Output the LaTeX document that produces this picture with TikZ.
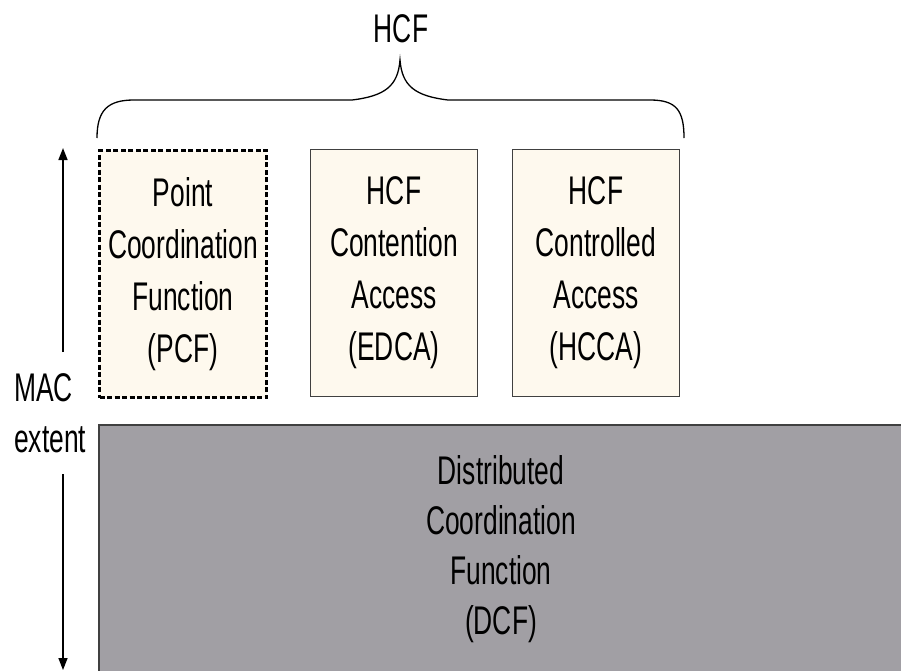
\documentclass[tikz,border=0pt]{standalone}
\usepackage{fontspec}
\setmainfont{Liberation Sans}[FakeStretch=0.66]
\usetikzlibrary{arrows.meta}
\definecolor{cream}{HTML}{FEF9EE}
\definecolor{dcfgray}{HTML}{A19FA4}
\definecolor{edge}{HTML}{404040}
\tikzset{
  lbl/.style={inner sep=0pt, font=\fontsize{40}{51}\selectfont},
  funcbox/.style={draw=edge, line width=1.5pt, fill=cream, minimum width=167pt, minimum height=247pt, inner sep=0pt, align=center, font=\fontsize{40}{52}\selectfont},
  pcfbox/.style={funcbox, draw=black, line width=2.2pt, dash pattern=on 5pt off 2.5pt},
  dcfbox/.style={draw=edge, line width=2pt, fill=dcfgray, minimum width=804pt, minimum height=249pt, inner sep=0pt, align=center, font=\fontsize{40}{50}\selectfont},
  extarrow/.style={line width=1.6pt, -{Triangle[length=12pt,width=9pt]}},
  bracepath/.style={line width=1.3pt, draw=black}
}
\begin{document}
\begin{tikzpicture}[x=1pt,y=-1pt]
\clip (0,0) rectangle (901,670);
\fill[white] (0,0) rectangle (901,670);
% HCF label and brace
\node[lbl, anchor=base] (hcf) at (401,42) {HCF};
\coordinate (bl) at (97,138);
\coordinate (br) at (684,138);
\coordinate (tip) at (400,60);
\draw[bracepath] (bl) .. controls (97,110) and (108,100) .. (134,100) -- (352,100)
  .. controls (385,96) and (398,86) .. (tip)
  .. controls (402,86) and (415,96) .. (448,100) -- (650,100)
  .. controls (676,100) and (684,110) .. (br);
% boxes
\node[pcfbox] (pcf) at (183,274) {Point\\Coordination\\Function\\(PCF)};
\node[funcbox] (edca) at (394,273) {HCF\\Contention\\Access\\(EDCA)};
\node[funcbox] (hcca) at (596,273) {HCF\\Controlled\\Access\\(HCCA)};
\node[dcfbox] (dcf) at (501,549.5) {Distributed\\Coordination\\Function\\(DCF)};
% MAC extent
\node[lbl, anchor=north west, align=left] (mac) at (14,373) {MAC\\extent};
\coordinate (upstart) at (63,352);
\coordinate (uptop) at (63,148);
\coordinate (dnstart) at (63,474);
\coordinate (dnend) at (63,670);
\draw[extarrow] (upstart) -- (uptop);
\draw[extarrow] (dnstart) -- (dnend);
\end{tikzpicture}
\end{document}
